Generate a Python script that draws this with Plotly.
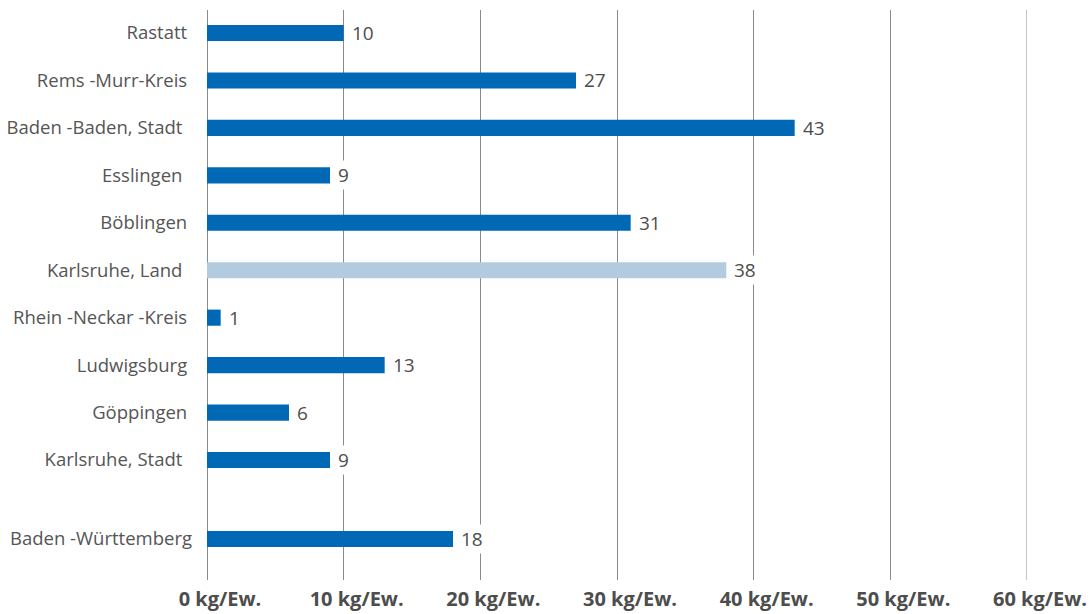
import plotly.graph_objects as go

categories = ["Rastatt", "Rems -Murr-Kreis", "Baden -Baden, Stadt ", "Esslingen ", "Böblingen",
              "Karlsruhe, Land ", "Rhein -Neckar -Kreis", "Ludwigsburg", "Göppingen",
              "Karlsruhe, Stadt ", "Baden -Württemberg"]
values = [10, 27, 43, 9, 31, 38, 1, 13, 6, 9, 18]
highlight = "Karlsruhe, Land "
x_ticks = [0, 10, 20, 30, 40, 50, 60]
x_tick_labels = [f"{v} kg/Ew." for v in x_ticks]

DARK = "#0068b4"
LIGHT = "#b2cbde"
GRID = "#8a8a8a"
TEXT = "#4d4d4d"

# positions: regular spacing, extra gap before the state total
positions = []
for i, c in enumerate(categories):
    if i == len(categories) - 1:
        positions.append(positions[-1] + 1.665)
    else:
        positions.append(float(i))

colors = [LIGHT if c == highlight else DARK for c in categories]


def pad(label, last):
    n_trail = len(label) - len(label.rstrip(" "))
    base = label.rstrip(" ")
    extra = 0 if last else 1
    return base + "\u00a0" * (extra + n_trail)


ticktext = [pad(c, i == len(categories) - 1) for i, c in enumerate(categories)]
x_ticktext = ["\u00a0" * 5 + t for t in x_tick_labels]

fig = go.Figure(go.Bar(
    x=values, y=positions, orientation="h",
    marker=dict(color=colors, line=dict(width=0)),
    width=0.34,
    hoverinfo="skip",
))

for v, p in zip(values, positions):
    fig.add_annotation(
        x=v, y=p, xref="x", yref="y", text=str(v), showarrow=False,
        xanchor="left", yanchor="middle", xshift=6,
        bgcolor="white", borderpad=1,
        font=dict(family="Open Sans", size=19, color=TEXT),
    )

# right-most gridline (at range end)
fig.add_shape(type="line", xref="x", yref="paper", x0=x_ticks[-1], x1=x_ticks[-1],
              y0=0, y1=1, line=dict(color=GRID, width=1), layer="below")

fig.update_layout(
    width=1090, height=614,
    margin=dict(l=207, r=63, t=10, b=34),
    paper_bgcolor="white", plot_bgcolor="white",
    showlegend=False,
    font=dict(family="Open Sans", color=TEXT),
    xaxis=dict(
        range=[0, 60], tickvals=x_ticks, ticktext=x_ticktext,
        showgrid=True, gridcolor=GRID, gridwidth=1,
        zeroline=True, zerolinecolor=GRID, zerolinewidth=1,
        showline=False, automargin=False,
        tickfont=dict(family="Open Sans", size=20, color=TEXT, weight="bold"),
        ticks="", ticklabelstandoff=5, fixedrange=True,
    ),
    yaxis=dict(
        range=[positions[-1] + 0.864, -0.485],
        tickvals=positions, ticktext=ticktext,
        showgrid=False, zeroline=False, showline=False, automargin=False,
        tickfont=dict(family="Open Sans", size=18.5, color="#555555"),
        ticks="", ticklabelstandoff=14, fixedrange=True,
    ),
)

fig.write_html("out.html")
